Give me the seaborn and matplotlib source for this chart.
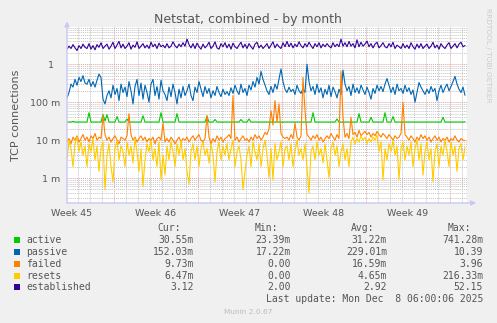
import numpy as np
import pandas as pd
import matplotlib
matplotlib.use("Agg")
import matplotlib.pyplot as plt
import matplotlib.transforms as mtransforms
from matplotlib.ticker import FixedLocator, NullFormatter, LogLocator
import seaborn as sns

# ---- data: 4-hour samples over the month (first four series in milli-connections)
series_names = ["active", "passive", "failed", "resets", "established"]
series_colors = ["#00CC00", "#0066B3", "#FF8000", "#FFCC00", "#330099"]

active_m = [30, 30, 30, 31, 30, 30, 30, 30, 30, 30,
            30, 53, 30, 30, 30, 30, 30, 30, 47, 32,
            47, 30, 30, 30, 30, 42, 30, 30, 30, 30,
            36, 30, 30, 30, 30, 30, 30, 30, 44, 30,
            30, 30, 30, 30, 30, 30, 30, 53, 30, 30,
            30, 30, 30, 30, 30, 50, 30, 30, 30, 30,
            30, 30, 30, 30, 30, 30, 30, 30, 30, 30,
            42, 30, 30, 30, 35, 30, 30, 30, 30, 30,
            30, 30, 30, 30, 30, 30, 30, 35, 30, 30,
            30, 36, 30, 30, 30, 30, 30, 30, 30, 30,
            30, 30, 30, 30, 30, 30, 30, 30, 30, 30,
            30, 30, 30, 30, 30, 30, 30, 30, 30, 30,
            30, 30, 30, 53, 30, 30, 30, 30, 30, 30,
            30, 30, 30, 30, 30, 36, 30, 30, 30, 30,
            30, 30, 30, 30, 30, 30, 50, 30, 30, 30,
            30, 30, 40, 30, 30, 30, 30, 30, 30, 53,
            30, 30, 30, 42, 30, 30, 30, 30, 30, 30,
            30, 30, 30, 30, 30, 30, 30, 30, 30, 30,
            30, 30, 30, 30, 30, 30, 30, 30, 40, 30,
            30, 30, 30, 30, 30, 30, 30, 30, 30, 30.55]

passive_m = [130, 180, 300, 250, 400, 280, 450, 350, 500, 320,
             300, 400, 260, 350, 250, 380, 550, 450, 120, 90,
             150, 200, 130, 280, 160, 230, 110, 300, 180, 250,
             140, 350, 200, 90, 260, 400, 150, 320, 120, 280,
             180, 100, 300, 400, 150, 260, 120, 380, 200, 160,
             110, 250, 140, 300, 180, 90, 220, 130, 260, 150,
             200, 300, 150, 110, 250, 180, 350, 220, 140, 260,
             170, 230, 130, 200, 150, 260, 180, 140, 220, 160,
             190, 150, 240, 170, 280, 200, 160, 300, 180, 230,
             150, 280, 210, 350, 250, 450, 300, 650, 400, 280,
             200, 160, 260, 180, 300, 220, 400, 750, 350, 220,
             180, 250, 190, 220, 160, 280, 200, 170, 230, 180,
             1000, 350, 200, 260, 160, 300, 180, 240, 130, 220,
             160, 280, 140, 250, 190, 130, 220, 160, 700, 300,
             200, 260, 150, 300, 180, 240, 170, 280, 210, 160,
             250, 180, 120, 230, 170, 280, 200, 260, 190, 300,
             420, 280, 180, 250, 160, 300, 200, 230, 170, 280,
             190, 240, 160, 210, 100, 180, 330, 250, 200, 160,
             220, 170, 260, 190, 230, 110, 200, 280, 180, 240,
             300, 200, 260, 350, 480, 300, 220, 180, 250, 152.03]

failed_m = [9, 11, 8, 12, 10, 13, 9, 11, 14, 10,
            12, 9, 13, 11, 15, 10, 12, 11, 45, 14,
            10, 12, 9, 11, 13, 10, 8, 12, 11, 10,
            13, 50, 14, 10, 12, 9, 11, 13, 10, 12,
            9, 11, 10, 12, 8, 11, 12, 10, 28, 9,
            11, 9, 12, 10, 8, 10, 12, 9, 11, 10,
            12, 9, 11, 13, 10, 12, 14, 10, 9, 11,
            45, 12, 8, 11, 9, 13, 10, 12, 9, 11,
            12, 14, 11, 150, 10, 12, 9, 11, 13, 10,
            11, 9, 12, 10, 14, 11, 13, 10, 12, 16,
            14, 20, 60, 25, 110, 30, 90, 15, 12, 11,
            12, 10, 14, 11, 28, 12, 10, 13, 450, 60,
            14, 12, 10, 13, 11, 14, 10, 12, 9, 11,
            13, 11, 15, 12, 10, 14, 11, 650, 40, 12,
            15, 11, 40, 14, 16, 12, 18, 13, 15, 17,
            14, 16, 12, 15, 13, 17, 14, 12, 15, 13,
            11, 14, 12, 10, 13, 11, 12, 15, 100, 14,
            12, 10, 13, 11, 9, 12, 10, 14, 11, 13,
            10, 12, 9, 11, 13, 10, 12, 9, 11, 10,
            12, 9, 11, 10, 13, 10, 9, 11, 10, 9.73]

resets_m = [3, 10, 6, 2, 8, 12, 5, 9, 4, 7,
            2, 8, 5, 11, 3, 7, 1.5, 6, 9, 0.5,
            4, 8, 2, 0.8, 6, 10, 3, 7, 5, 2,
            9, 4, 7, 2.5, 11, 5, 1.5, 6, 0.6, 3,
            8, 5, 10, 3, 6, 2, 9, 0.9, 4, 1.2,
            7, 3, 9, 5, 2, 8, 4, 10, 3, 6,
            1.5, 0.7, 5, 8, 3, 7, 2, 6, 9, 4,
            6, 2.5, 8, 4, 0.8, 5, 9, 3, 7, 4,
            8, 3, 6, 10, 2, 5, 7, 3, 0.5, 1.5,
            4, 7, 2, 9, 5, 3, 8, 2, 6, 10,
            4, 1, 6, 0.9, 8, 3, 5, 9, 2, 6,
            7, 3, 8, 2, 5, 10, 4, 6, 3, 8,
            2, 0.4, 5, 7, 3, 9, 4, 6, 2.5, 8,
            3, 1, 6, 9, 4, 7, 2, 5, 8, 3,
            6, 2, 9, 12, 8, 11, 9, 13, 10, 12,
            8, 11, 9, 12, 10, 14, 5, 9, 0.9, 6,
            3, 8, 5, 10, 4, 7, 0.9, 6, 9, 3,
            7, 4, 9, 2, 6, 10, 3, 8, 1.2, 5,
            9, 3, 6, 0.8, 5, 8, 2, 7, 4, 10,
            5, 2, 9, 4, 7, 1.5, 6, 8, 3, 6.47]

established = [2.5, 3.0, 2.6, 3.3, 2.7, 2.3, 3.1, 2.6, 3.4, 2.8,
               2.6, 3.5, 2.5, 3.1, 2.4, 3.3, 2.8, 3.7, 2.6, 3.0,
               3.4, 2.5, 3.0, 3.8, 2.6, 3.2, 4.0, 2.7, 3.4, 2.6,
               3.0, 3.7, 2.5, 3.2, 2.8, 3.9, 2.6, 3.0, 3.5, 2.7,
               3.2, 2.6, 3.8, 2.9, 3.4, 2.6, 3.6, 2.9, 3.2, 2.7,
               3.5, 2.7, 3.0, 3.9, 3.1, 2.7, 3.4, 2.9, 3.7, 3.0,
               4.6, 3.3, 2.7, 3.5, 2.6, 3.6, 2.9, 2.5, 3.4, 2.7,
               3.1, 3.8, 2.6, 3.0, 3.9, 2.7, 2.5, 3.5, 2.9, 3.7,
               2.7, 3.4, 2.5, 3.6, 2.9, 2.6, 3.2, 3.8, 2.7, 3.4,
               2.6, 3.5, 2.9, 2.5, 3.4, 3.8, 2.7, 3.2, 2.6, 3.0,
               3.5, 2.6, 3.2, 3.9, 2.7, 3.4, 2.9, 2.6, 3.7, 2.9,
               4.0, 2.9, 3.6, 2.7, 3.4, 2.9, 3.9, 3.1, 2.7, 3.5,
               2.9, 3.8, 3.1, 2.6, 3.5, 2.9, 3.7, 2.7, 3.4, 2.9,
               3.5, 3.0, 2.7, 3.7, 2.9, 3.4, 2.9, 4.6, 3.0, 3.7,
               2.9, 4.0, 3.0, 3.5, 2.7, 4.4, 2.9, 3.8, 3.0, 3.4,
               4.1, 2.9, 3.5, 2.7, 3.4, 3.8, 2.7, 3.1, 3.7, 2.9,
               2.7, 3.5, 2.9, 3.8, 2.6, 3.2, 2.9, 2.6, 3.5, 2.7,
               3.2, 2.6, 3.7, 2.9, 2.5, 3.4, 2.7, 3.5, 2.6, 3.0,
               3.4, 2.6, 3.0, 3.8, 2.7, 3.2, 2.5, 3.5, 2.9, 2.6,
               3.2, 3.7, 2.6, 3.0, 3.5, 2.7, 3.4, 3.8, 2.9, 3.12]

week_labels = ["Week 45", "Week 46", "Week 47", "Week 48", "Week 49"]
ytick_values = [1e-3, 1e-2, 1e-1, 1.0]
ytick_labels = ["1 m", "10 m", "100 m", "1  "]

cur_vals = ["30.55m", "152.03m", "9.73m", "6.47m", "3.12"]
min_vals = ["23.39m", "17.22m", "0.00", "0.00", "2.00"]
avg_vals = ["31.22m", "229.01m", "16.59m", "4.65m", "2.92"]
max_vals = ["741.28m", "10.39", "3.96", "216.33m", "52.15"]

# ---- time axis (days from the left edge of the graph)
step_days = 1.0 / 6.0
span_days = 400.0 / 12.0
first_monday = 3.92
t = np.arange(len(active_m)) * step_days

frames = []
for name, vals, scale in [("active", active_m, 1e-3), ("passive", passive_m, 1e-3),
                          ("failed", failed_m, 1e-3), ("resets", resets_m, 1e-3),
                          ("established", established, 1.0)]:
    frames.append(pd.DataFrame({"day": t, "value": np.asarray(vals, float) * scale,
                                "series": name}))
df = pd.concat(frames, ignore_index=True)

# ---- figure
W, H = 497, 323
sns.set_style("white")
plt.rcParams["font.family"] = ["DejaVu Sans"]
fig = plt.figure(figsize=(W / 100, H / 100), dpi=100, facecolor="#F0F0F0")
ax = fig.add_axes([67 / W, 1 - 203 / H, 400 / W, 176 / H])
ax.set_facecolor("white")


def fx(px):
    return px / W


def fy(py):
    return 1 - py / H


grid_gray = "#c4c4c4"
grid_red = "#e6a0a0"
txt = "#555555"

ax.set_yscale("log")
ax.set_xlim(0, span_days)
ax.set_ylim(2.2e-4, 9.6)

# day / week grid and decade grid
week_starts = [first_monday + 7 * k for k in range(5)]
day_lines = [first_monday % 1 + k for k in range(34) if first_monday % 1 + k < span_days]
ax.xaxis.set_major_locator(FixedLocator(week_starts))
ax.xaxis.set_minor_locator(FixedLocator(day_lines))
ax.xaxis.set_major_formatter(NullFormatter())
ax.xaxis.set_minor_formatter(NullFormatter())
ax.yaxis.set_major_locator(FixedLocator(ytick_values))
ax.yaxis.set_minor_locator(LogLocator(base=10, subs=np.arange(2, 10)))
ax.yaxis.set_minor_formatter(NullFormatter())
ax.set_yticklabels(ytick_labels)

ax.grid(True, which="minor", color=grid_gray, linestyle=(0, (1, 1)), linewidth=0.7)
ax.grid(True, which="major", color=grid_red, linestyle=(0, (1, 1)), linewidth=0.7)
ax.set_axisbelow(True)

ax.tick_params(axis="y", which="both", length=0, pad=5, labelsize=6.8, labelcolor=txt)
ax.tick_params(axis="x", which="major", length=3, color=grid_red, width=0.7, direction="out")
ax.tick_params(axis="x", which="minor", length=2, color=grid_gray, width=0.7, direction="out")

for s in ax.spines.values():
    s.set_visible(False)

sns.lineplot(data=df, x="day", y="value", hue="series", hue_order=series_names,
             palette=series_colors, linewidth=0.8, legend=False, ax=ax,
             estimator=None, sort=False)
ax.set_xlabel("")
ax.set_ylabel("TCP connections", fontsize=8, color=txt, labelpad=6)

# axis lines with arrow heads
axis_col = "#c8c8f4"
ax.annotate("", xy=(0, 1.032), xytext=(0, 0), xycoords="axes fraction",
            arrowprops=dict(arrowstyle="-|>", color=axis_col, lw=1.0,
                            mutation_scale=7, shrinkA=0, shrinkB=0))
ax.annotate("", xy=(1.023, 0), xytext=(0, 0), xycoords="axes fraction",
            arrowprops=dict(arrowstyle="-|>", color=axis_col, lw=1.0,
                            mutation_scale=7, shrinkA=0, shrinkB=0))

# week labels centred in each week
blend = mtransforms.blended_transform_factory(ax.transData, ax.transAxes)
for k, lab in enumerate(week_labels):
    ax.text(first_monday + 7 * k - 3.5, -0.057, lab, transform=blend, ha="center",
            va="center", fontsize=6.8, color=txt)

# title and side texts
fig.text(fx(248), fy(19), "Netstat, combined - by month", ha="center", va="center",
         fontsize=9, color=txt)
fig.text(fx(488), fy(8), "RRDTOOL / TOBI OETIKER", rotation=270, ha="center", va="top",
         fontsize=5.3, color="#cccccc")

# legend table
mono = dict(family="DejaVu Sans Mono", fontsize=7, color=txt, va="center")
row_y = [240, 252, 264, 276, 287]
fig.text(fx(181), fy(228), "Cur:", ha="right", **mono)
fig.text(fx(278), fy(228), "Min:", ha="right", **mono)
fig.text(fx(374), fy(228), "Avg:", ha="right", **mono)
fig.text(fx(471), fy(228), "Max:", ha="right", **mono)
for name, col, yy, c, mn, av, mx in zip(series_names, series_colors, row_y,
                                         cur_vals, min_vals, avg_vals, max_vals):
    fig.patches.append(plt.Rectangle((fx(14), fy(yy + 3)), 6 / W, 6 / H,
                                     transform=fig.transFigure, facecolor=col,
                                     edgecolor="none"))
    fig.text(fx(26), fy(yy), name, ha="left", **mono)
    fig.text(fx(194), fy(yy), c, ha="right", **mono)
    fig.text(fx(291), fy(yy), mn, ha="right", **mono)
    fig.text(fx(387), fy(yy), av, ha="right", **mono)
    fig.text(fx(483), fy(yy), mx, ha="right", **mono)

fig.text(fx(483), fy(299), "Last update: Mon Dec  8 06:00:06 2025", ha="right", **mono)
fig.text(fx(248), fy(312), "Munin 2.0.67", ha="center", va="center", fontsize=5.3,
         color="#bbbbbb")

fig.savefig("out.png", dpi=100, facecolor=fig.get_facecolor())
